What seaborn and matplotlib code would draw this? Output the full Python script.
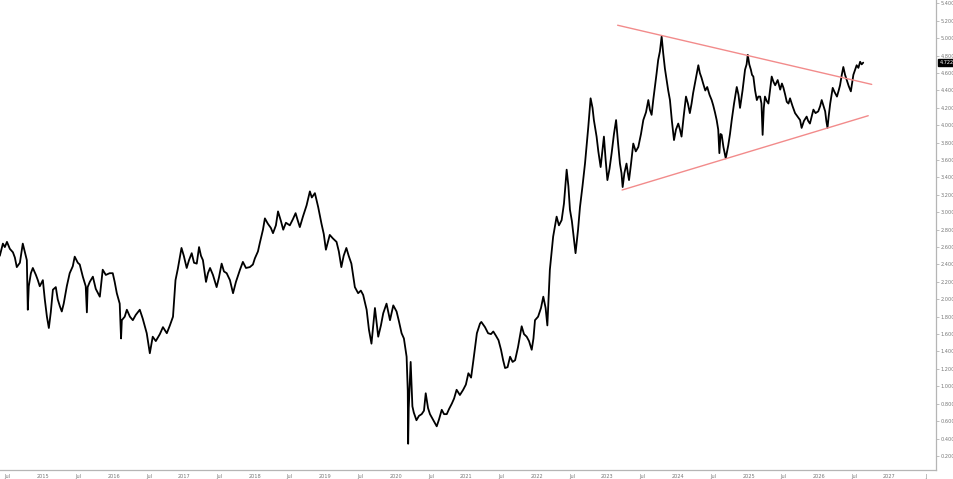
import pandas as pd
import matplotlib
matplotlib.use("Agg")
import matplotlib.pyplot as plt
import seaborn as sns

# yield series (date, value)
dates = [
    "2014-05-21", "2014-06-06", "2014-06-16", "2014-06-27", "2014-07-12", "2014-07-28", "2014-08-07", "2014-08-17",
    "2014-09-02", "2014-09-17", "2014-09-27", "2014-10-08", "2014-10-13", "2014-10-18", "2014-10-29", "2014-11-08",
    "2014-11-24", "2014-12-04", "2014-12-14", "2014-12-30", "2015-01-09", "2015-01-20", "2015-01-30", "2015-02-09",
    "2015-02-20", "2015-03-07", "2015-03-17", "2015-03-28", "2015-04-07", "2015-04-17", "2015-05-03", "2015-05-18",
    "2015-06-03", "2015-06-13", "2015-06-29", "2015-07-09", "2015-07-25", "2015-08-09", "2015-08-15", "2015-08-19",
    "2015-08-30", "2015-09-15", "2015-09-30", "2015-10-21", "2015-11-05", "2015-11-21", "2015-12-11", "2015-12-27",
    "2016-01-06", "2016-01-17", "2016-02-01", "2016-02-08", "2016-02-12", "2016-02-27", "2016-03-09", "2016-03-25",
    "2016-04-09", "2016-04-24", "2016-05-15", "2016-05-30", "2016-06-20", "2016-07-06", "2016-07-21", "2016-08-06",
    "2016-08-27", "2016-09-12", "2016-10-02", "2016-10-18", "2016-11-03", "2016-11-16", "2016-11-28", "2016-12-17",
    "2016-12-29", "2017-01-13", "2017-01-25", "2017-02-08", "2017-02-20", "2017-03-06", "2017-03-18", "2017-03-28",
    "2017-04-07", "2017-04-23", "2017-05-03", "2017-05-14", "2017-05-29", "2017-06-17", "2017-06-29", "2017-07-13",
    "2017-07-25", "2017-08-08", "2017-08-25", "2017-09-10", "2017-09-25", "2017-10-16", "2017-10-31", "2017-11-16",
    "2017-12-06", "2017-12-22", "2018-01-01", "2018-01-17", "2018-01-27", "2018-02-12", "2018-02-22", "2018-03-09",
    "2018-03-25", "2018-04-05", "2018-04-20", "2018-05-01", "2018-05-16", "2018-05-28", "2018-06-11", "2018-07-01",
    "2018-07-17", "2018-07-31", "2018-08-12", "2018-08-22", "2018-09-07", "2018-09-26", "2018-10-13", "2018-10-23",
    "2018-11-08", "2018-11-25", "2018-12-12", "2018-12-24", "2019-01-04", "2019-01-24", "2019-02-09", "2019-02-28",
    "2019-03-12", "2019-03-25", "2019-04-06", "2019-04-20", "2019-05-02", "2019-05-16", "2019-06-03", "2019-06-20",
    "2019-07-04", "2019-07-16", "2019-08-03", "2019-08-15", "2019-08-28", "2019-09-15", "2019-10-02", "2019-10-16",
    "2019-10-28", "2019-11-14", "2019-12-02", "2019-12-19", "2020-01-05", "2020-01-17", "2020-01-31", "2020-02-12",
    "2020-02-26", "2020-03-03", "2020-03-05", "2020-03-08", "2020-03-18", "2020-03-27", "2020-04-03", "2020-04-17",
    "2020-04-30", "2020-05-14", "2020-05-26", "2020-06-04", "2020-06-16", "2020-06-26", "2020-07-11", "2020-07-31",
    "2020-08-12", "2020-08-26", "2020-09-07", "2020-09-21", "2020-10-03", "2020-10-17", "2020-10-29", "2020-11-11",
    "2020-11-28", "2020-12-15", "2020-12-29", "2021-01-11", "2021-01-25", "2021-02-06", "2021-02-24", "2021-03-12",
    "2021-03-19", "2021-04-07", "2021-04-23", "2021-05-08", "2021-05-20", "2021-06-03", "2021-06-16", "2021-06-29",
    "2021-07-10", "2021-07-20", "2021-08-02", "2021-08-15", "2021-08-28", "2021-09-10", "2021-09-25", "2021-10-14",
    "2021-10-26", "2021-11-09", "2021-11-21", "2021-12-05", "2021-12-14", "2021-12-22", "2022-01-07", "2022-01-22",
    "2022-02-03", "2022-02-15", "2022-02-24", "2022-03-09", "2022-03-26", "2022-04-13", "2022-04-25", "2022-05-09",
    "2022-05-21", "2022-06-04", "2022-06-13", "2022-06-21", "2022-07-01", "2022-07-08", "2022-07-20", "2022-08-02",
    "2022-08-12", "2022-08-25", "2022-09-07", "2022-09-24", "2022-10-06", "2022-10-16", "2022-10-23", "2022-11-06",
    "2022-11-15", "2022-11-27", "2022-12-06", "2022-12-14", "2022-12-23", "2023-01-01", "2023-01-12", "2023-01-23",
    "2023-02-04", "2023-02-15", "2023-02-25", "2023-03-07", "2023-03-15", "2023-03-21", "2023-03-30", "2023-04-10",
    "2023-04-17", "2023-04-23", "2023-05-03", "2023-05-15", "2023-05-28", "2023-06-10", "2023-06-24", "2023-07-06",
    "2023-07-20", "2023-08-01", "2023-08-09", "2023-08-18", "2023-08-27", "2023-09-04", "2023-09-13", "2023-09-21",
    "2023-09-30", "2023-10-09", "2023-10-17", "2023-10-26", "2023-11-04", "2023-11-12", "2023-11-21", "2023-12-01",
    "2023-12-12", "2023-12-22", "2024-01-03", "2024-01-12", "2024-01-20", "2024-01-31", "2024-02-12", "2024-02-22",
    "2024-03-03", "2024-03-12", "2024-03-20", "2024-04-04", "2024-04-16", "2024-04-24", "2024-05-02", "2024-05-11",
    "2024-05-22", "2024-06-01", "2024-06-13", "2024-06-24", "2024-07-02", "2024-07-11", "2024-07-20", "2024-07-28",
    "2024-08-03", "2024-08-09", "2024-08-15", "2024-08-24", "2024-09-05", "2024-09-12", "2024-09-18", "2024-09-27",
    "2024-10-06", "2024-10-18", "2024-11-01", "2024-11-10", "2024-11-18", "2024-12-01", "2024-12-14", "2024-12-22",
    "2024-12-28", "2025-01-05", "2025-01-13", "2025-01-19", "2025-01-26", "2025-02-04", "2025-02-13", "2025-02-21",
    "2025-03-02", "2025-03-09", "2025-03-15", "2025-03-21", "2025-03-27", "2025-04-05", "2025-04-14", "2025-04-22",
    "2025-05-01", "2025-05-10", "2025-05-19", "2025-06-01", "2025-06-14", "2025-06-23", "2025-07-01", "2025-07-10",
    "2025-07-18", "2025-07-27", "2025-08-04", "2025-08-17", "2025-08-30", "2025-09-12", "2025-09-25", "2025-10-03",
    "2025-10-15", "2025-10-29", "2025-11-06", "2025-11-15", "2025-11-24", "2025-12-03", "2025-12-14", "2025-12-28",
    "2026-01-07", "2026-01-15", "2026-01-25", "2026-02-02", "2026-02-08", "2026-02-14", "2026-02-20", "2026-02-28",
    "2026-03-07", "2026-03-13", "2026-03-23", "2026-04-04", "2026-04-13", "2026-04-20", "2026-04-29", "2026-05-07",
    "2026-05-16", "2026-05-25", "2026-06-04", "2026-06-15", "2026-06-21", "2026-06-28", "2026-07-07", "2026-07-15",
    "2026-07-24", "2026-08-02", "2026-08-10", "2026-08-18",
]
values = [
    2.50, 2.64, 2.60, 2.66, 2.58, 2.54, 2.48, 2.37,
    2.42, 2.64, 2.55, 2.45, 1.88, 2.15, 2.30, 2.36,
    2.28, 2.22, 2.15, 2.22, 2.00, 1.80, 1.67, 1.85,
    2.11, 2.14, 2.00, 1.92, 1.86, 1.95, 2.15, 2.30,
    2.38, 2.49, 2.42, 2.40, 2.26, 2.15, 1.85, 2.14,
    2.20, 2.26, 2.12, 2.03, 2.34, 2.28, 2.30, 2.30,
    2.20, 2.07, 1.95, 1.55, 1.76, 1.80, 1.88, 1.80,
    1.76, 1.82, 1.88, 1.78, 1.61, 1.38, 1.57, 1.52,
    1.60, 1.68, 1.61, 1.70, 1.80, 2.22, 2.35, 2.59,
    2.50, 2.36, 2.45, 2.53, 2.42, 2.41, 2.60, 2.50,
    2.45, 2.20, 2.30, 2.36, 2.28, 2.14, 2.25, 2.41,
    2.32, 2.30, 2.22, 2.07, 2.20, 2.34, 2.43, 2.36,
    2.37, 2.40, 2.47, 2.55, 2.65, 2.80, 2.93, 2.87,
    2.82, 2.76, 2.85, 3.01, 2.90, 2.80, 2.88, 2.85,
    2.92, 2.99, 2.90, 2.83, 2.95, 3.08, 3.24, 3.17,
    3.22, 3.06, 2.87, 2.75, 2.57, 2.74, 2.70, 2.66,
    2.55, 2.37, 2.50, 2.59, 2.50, 2.41, 2.14, 2.07,
    2.10, 2.05, 1.88, 1.65, 1.49, 1.90, 1.57, 1.70,
    1.84, 1.95, 1.76, 1.93, 1.86, 1.75, 1.61, 1.55,
    1.34, 0.95, 0.34, 0.75, 1.28, 0.77, 0.70, 0.61,
    0.66, 0.68, 0.72, 0.92, 0.75, 0.68, 0.62, 0.54,
    0.62, 0.73, 0.68, 0.68, 0.74, 0.80, 0.86, 0.96,
    0.90, 0.96, 1.02, 1.15, 1.10, 1.30, 1.61, 1.72,
    1.74, 1.68, 1.61, 1.60, 1.63, 1.58, 1.53, 1.42,
    1.30, 1.21, 1.22, 1.34, 1.28, 1.30, 1.45, 1.69,
    1.60, 1.57, 1.52, 1.42, 1.55, 1.76, 1.80, 1.90,
    2.03, 1.90, 1.70, 2.34, 2.72, 2.95, 2.85, 2.91,
    3.10, 3.49, 3.30, 3.03, 2.90, 2.76, 2.53, 2.80,
    3.06, 3.30, 3.56, 3.98, 4.31, 4.20, 4.06, 3.87,
    3.70, 3.52, 3.70, 3.87, 3.60, 3.37, 3.50, 3.68,
    3.90, 4.06, 3.80, 3.56, 3.45, 3.29, 3.45, 3.56,
    3.45, 3.37, 3.55, 3.79, 3.70, 3.75, 3.90, 4.06,
    4.15, 4.29, 4.18, 4.12, 4.30, 4.44, 4.60, 4.75,
    4.85, 5.02, 4.83, 4.65, 4.52, 4.40, 4.29, 4.05,
    3.83, 3.95, 4.02, 3.95, 3.87, 4.10, 4.33, 4.25,
    4.14, 4.25, 4.37, 4.55, 4.69, 4.60, 4.55, 4.48,
    4.40, 4.44, 4.35, 4.29, 4.23, 4.15, 4.06, 3.95,
    3.68, 3.90, 3.89, 3.75, 3.62, 3.70, 3.77, 3.90,
    4.06, 4.25, 4.44, 4.35, 4.20, 4.40, 4.64, 4.70,
    4.81, 4.70, 4.64, 4.58, 4.56, 4.40, 4.29, 4.33,
    4.33, 4.25, 3.89, 4.20, 4.33, 4.28, 4.25, 4.40,
    4.56, 4.50, 4.46, 4.52, 4.41, 4.48, 4.43, 4.35,
    4.27, 4.25, 4.31, 4.22, 4.14, 4.10, 4.06, 3.97,
    4.05, 4.10, 4.05, 4.02, 4.10, 4.18, 4.14, 4.16,
    4.22, 4.29, 4.22, 4.16, 4.05, 3.97, 4.10, 4.25,
    4.35, 4.43, 4.38, 4.33, 4.40, 4.46, 4.58, 4.67,
    4.58, 4.52, 4.45, 4.39, 4.48, 4.58, 4.64, 4.69,
    4.66, 4.73, 4.70, 4.72,
]
last_price = 4.722

# triangle trendlines (start, end)
upper_dates = ["2023-02-23", "2026-10-01"]
upper_vals = [5.15, 4.47]
lower_dates = ["2023-03-18", "2026-09-13"]
lower_vals = [3.256, 4.11]

# axis ticks
y_ticks = [0.2, 0.4, 0.6, 0.8, 1.0, 1.2, 1.4, 1.6, 1.8, 2.0, 2.2, 2.4, 2.6,
           2.8, 3.0, 3.2, 3.4, 3.6, 3.8, 4.0, 4.2, 4.4, 4.6, 4.8, 5.0, 5.2, 5.4]
x_tick_dates = ["2014-07-01", "2015-01-01", "2015-07-01", "2016-01-01", "2016-07-01",
                "2017-01-01", "2017-07-01", "2018-01-01", "2018-07-01", "2019-01-01",
                "2019-07-01", "2020-01-01", "2020-07-01", "2021-01-01", "2021-07-01",
                "2022-01-01", "2022-07-01", "2023-01-01", "2023-07-01", "2024-01-01",
                "2024-07-01", "2025-01-01", "2025-07-01", "2026-01-01", "2026-07-01",
                "2027-01-01", "2027-07-10"]
x_tick_labels = ["Jul", "2015", "Jul", "2016", "Jul", "2017", "Jul", "2018", "Jul", "2019",
                 "Jul", "2020", "Jul", "2021", "Jul", "2022", "Jul", "2023", "Jul", "2024",
                 "Jul", "2025", "Jul", "2026", "Jul", "2027", "J"]

df = pd.DataFrame({"date": pd.to_datetime(dates), "value": values})

sns.set_theme(style="white")
plt.rcParams['font.family'] = ['DejaVu Sans']

fig = plt.figure(figsize=(9.54, 4.79), dpi=100)
ax = fig.add_axes([0.0, 9 / 479, 936 / 954, 470 / 479])

sns.lineplot(data=df, x="date", y="value", color="black", linewidth=1.3,
             estimator=None, ax=ax)

trend_col = "#f28b8b"
ax.plot(pd.to_datetime(upper_dates), upper_vals, color=trend_col, linewidth=1.0)
ax.plot(pd.to_datetime(lower_dates), lower_vals, color=trend_col, linewidth=1.0)

ax.set_xlim(pd.Timestamp("2014-05-22"), pd.Timestamp("2027-08-30"))
ax.set_ylim(0.038, 5.44)

ax.yaxis.tick_right()
ax.set_yticks(y_ticks)
ax.set_yticklabels([f"{v:.3f}" for v in y_ticks])
ax.set_xticks(pd.to_datetime(x_tick_dates))
ax.set_xticklabels(x_tick_labels)
ax.set_xlabel("")
ax.set_ylabel("")

for side in ["left", "top"]:
    ax.spines[side].set_visible(False)
for side in ["right", "bottom"]:
    ax.spines[side].set_color("#b5b5b5")
    ax.spines[side].set_linewidth(0.9)

ax.tick_params(axis="both", length=2, width=0.6, color="#b5b5b5",
               labelsize=3.6, labelcolor="#777777", pad=1.2)
ax.tick_params(axis="x", pad=1.0)

# last price tag
ax.annotate(f"{last_price:.3f}", xy=(1.0, last_price), xycoords=("axes fraction", "data"),
            xytext=(2.5, 0), textcoords="offset points", va="center", ha="left",
            fontsize=3.6, color="white",
            bbox=dict(boxstyle="square,pad=0.25", fc="black", ec="black"))

fig.savefig("out.png", dpi=100)
